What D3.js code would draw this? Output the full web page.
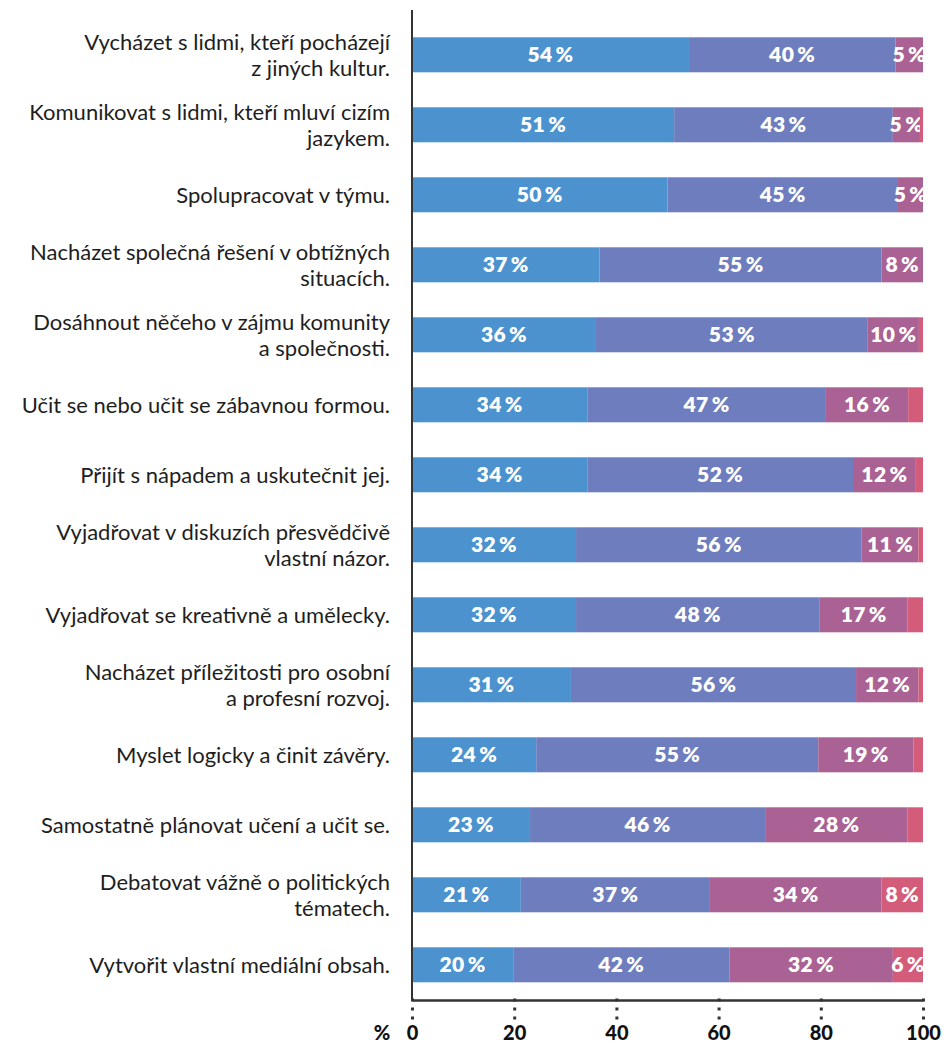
<!DOCTYPE html>
<html>
<head>
<meta charset="utf-8">
<script src="https://cdn.jsdelivr.net/npm/d3@7"></script>
<style>
  html, body { margin: 0; padding: 0; background: #fff; }
  svg { display: block; }
</style>
</head>
<body>
<svg id="chart" width="946" height="1044"></svg>
<script>
// categories (line breaks as in the original)
const categories = [
  "Vycházet s lidmi, kteří pocházejí\nz jiných kultur.",
  "Komunikovat s lidmi, kteří mluví cizím\njazykem.",
  "Spolupracovat v týmu.",
  "Nacházet společná řešení v obtížných\nsituacích.",
  "Dosáhnout něčeho v zájmu komunity\na společnosti.",
  "Učit se nebo učit se zábavnou formou.",
  "Přijít s nápadem a uskutečnit jej.",
  "Vyjadřovat v diskuzích přesvědčivě\nvlastní názor.",
  "Vyjadřovat se kreativně a umělecky.",
  "Nacházet příležitosti pro osobní\na profesní rozvoj.",
  "Myslet logicky a činit závěry.",
  "Samostatně plánovat učení a učit se.",
  "Debatovat vážně o politických\ntématech.",
  "Vytvořit vlastní mediální obsah."
];

// four answer groups, % of respondents
const series1 = [54.2, 51.3, 50.0, 36.7, 36.0, 34.3, 34.3, 32.1, 32.1, 31.1, 24.3, 23.1, 21.3, 19.8];
const series2 = [40.4, 42.8, 45.1, 55.2, 53.2, 46.7, 52.0, 55.9, 47.7, 55.8, 55.2, 46.0, 37.0, 42.3];
const series3 = [5.4, 5.3, 4.9, 8.1, 10.0, 16.1, 12.3, 11.1, 17.2, 12.2, 18.6, 27.9, 33.6, 32.0];
const series4 = [0.0, 0.6, 0.0, 0.0, 0.8, 2.9, 1.4, 0.9, 3.0, 0.9, 1.9, 3.0, 8.1, 5.9];

const xTicks = [0, 20, 40, 60, 80, 100];
const colors = ["#4b92cf", "#6e7dbd", "#a96293", "#d35c7b"];

const svg = d3.select("#chart");
const x = d3.scaleLinear().domain([0, 100]).range([412, 923]);
const y = d3.scaleBand().domain(categories).range([19.8, 999.8])
  .paddingInner(0.5).paddingOuter(0.25);

const rows = categories.map((c, i) => ({ cat: c, vals: [series1[i], series2[i], series3[i], series4[i]] }));

// stacked segments
rows.forEach(r => {
  let acc = 0;
  r.vals.forEach((v, k) => {
    const x0 = acc, x1 = acc + v;
    acc = x1;
    if (v <= 0) return;
    svg.append("rect")
      .attr("x", x(x0)).attr("y", y(r.cat))
      .attr("width", x(x1) - x(x0)).attr("height", y.bandwidth())
      .attr("fill", colors[k]);
    if (v >= 4.5) {
      svg.append("text")
        .attr("x", (x(x0) + x(x1)) / 2)
        .attr("y", y(r.cat) + y.bandwidth() / 2)
        .attr("dy", "0.36em")
        .attr("text-anchor", "middle")
        .attr("fill", "#fff")
        .style("font", "800 21px Lato, sans-serif")
        .style("letter-spacing", "0.4px")
        .text(Math.round(v) + "\u2009%");
    }
  });
});

// category labels
categories.forEach(c => {
  const lines = c.split("\n");
  const cy = y(c) + y.bandwidth() / 2;
  const lh = 26;
  const t = svg.append("text")
    .attr("text-anchor", "end")
    .attr("fill", "#1e1e1e")
    .style("font", "400 22px Lato, sans-serif");
  lines.forEach((ln, j) => {
    t.append("tspan")
      .attr("x", 390)
      .attr("y", cy + (j - (lines.length - 1) / 2) * lh)
      .attr("dy", "0.35em")
      .text(ln);
  });
});

// vertical axis line
svg.append("line")
  .attr("x1", x(0)).attr("x2", x(0)).attr("y1", 10).attr("y2", 1000)
  .attr("stroke", "#333").attr("stroke-width", 2);

// bottom axis
const axisG = svg.append("g").attr("transform", "translate(0,1000)");
axisG.call(d3.axisBottom(x).tickValues(xTicks).tickSize(0).tickPadding(0).tickFormat(""));
axisG.select(".domain").attr("stroke", "#333").attr("stroke-width", 2.5);
axisG.selectAll(".tick").append("line")
  .attr("y1", -1.5).attr("y2", 21)
  .attr("stroke", "#333").attr("stroke-width", 3)
  .attr("stroke-dasharray", "3,6");
axisG.selectAll(".tick").append("text")
  .attr("y", 40).attr("fill", "#111")
  .attr("text-anchor", "middle")
  .style("font", "900 20px Lato, sans-serif")
  .text(d => d);

svg.append("text")
  .attr("x", 382).attr("y", 1040)
  .attr("text-anchor", "middle").attr("fill", "#111")
  .style("font", "900 20px Lato, sans-serif")
  .text("%");
</script>
</body>
</html>
